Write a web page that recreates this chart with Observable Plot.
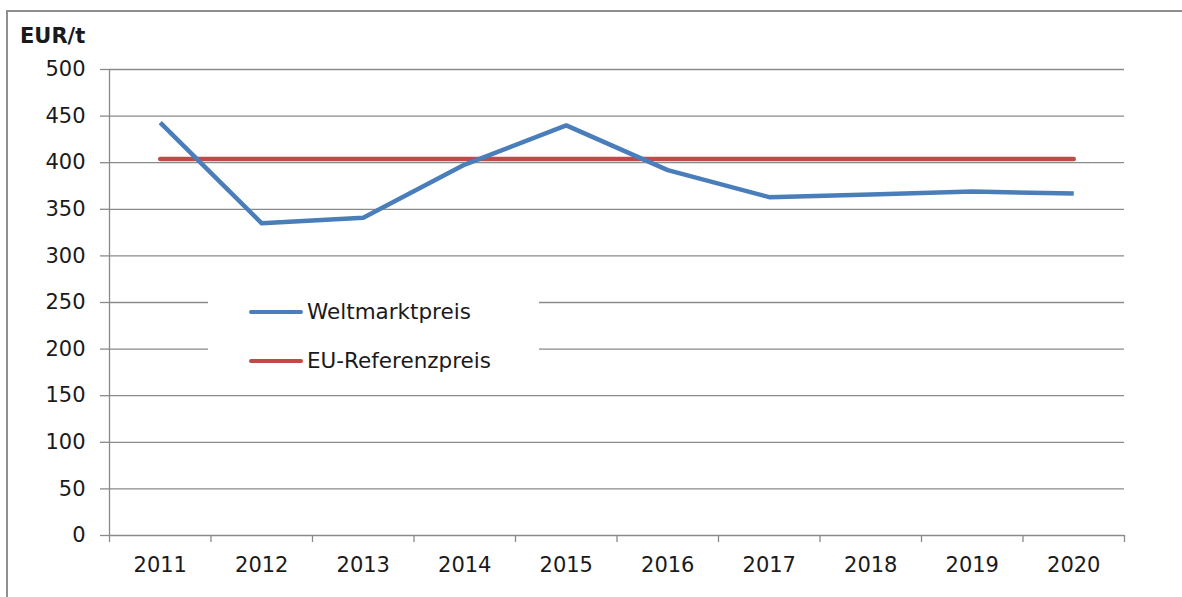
<!DOCTYPE html>
<html><head><meta charset="utf-8">
<script src="https://cdn.jsdelivr.net/npm/d3@7"></script>
<script src="https://cdn.jsdelivr.net/npm/@observablehq/plot@0.6"></script>
<style>
body{margin:0;background:#fff;}
#wrap{position:relative;width:1182px;height:597px;overflow:hidden;font-family:"DejaVu Sans",sans-serif;color:#1a1a1a;}
#frame{position:absolute;left:6px;top:10px;right:-10px;bottom:-10px;border-left:2px solid #8f8f8f;border-top:2px solid #8f8f8f;pointer-events:none;}
#ylabel{position:absolute;left:20px;top:24px;font-weight:bold;font-size:21px;line-height:24px;}
#legend{position:absolute;left:208px;top:290px;width:331px;height:90px;background:#fff;}
.sw{position:absolute;left:41px;width:54px;height:4.5px;border-radius:2px;}
.lt{position:absolute;left:99px;font-size:21.5px;line-height:24px;white-space:nowrap;}
#chart svg{display:block;}
</style></head>
<body>
<div id="wrap">
  <div id="chart"></div>
  <div id="frame"></div>
  <div id="ylabel"></div>
  <div id="legend"></div>
</div>
<script>
const years = [2011, 2012, 2013, 2014, 2015, 2016, 2017, 2018, 2019, 2020];
const weltmarktpreis = [443, 335, 341, 398, 440, 392, 363, 366, 369, 367];
const euReferenzpreis = [404, 404, 404, 404, 404, 404, 404, 404, 404, 404];
const yTicks = [0, 50, 100, 150, 200, 250, 300, 350, 400, 450, 500];
const seriesNames = ["Weltmarktpreis", "EU-Referenzpreis"];
const seriesColors = ["#4A7EBB", "#BE4B48"];
const unitLabel = "EUR/t";

const bounds = years.map(y => y - 0.5).concat([years[years.length - 1] + 0.5]);
const welt = years.map((y, i) => ({year: y, value: weltmarktpreis[i]}));
const eu = years.map((y, i) => ({year: y, value: euReferenzpreis[i]}));
const axisColor = "#8a8a8a";

const plot = Plot.plot({
  width: 1182, height: 597,
  marginLeft: 109, marginRight: 58, marginTop: 69, marginBottom: 62,
  x: {type: "linear", domain: [bounds[0], bounds[bounds.length - 1]]},
  y: {type: "linear", domain: [0, 500]},
  style: {fontFamily: "DejaVu Sans", fontSize: "21px", color: "#1a1a1a", background: "transparent", overflow: "visible"},
  marks: [
    Plot.gridY(yTicks.filter(d => d > 0), {stroke: axisColor, strokeOpacity: 1, strokeWidth: 1.3}),
    Plot.ruleY([0], {stroke: axisColor, strokeWidth: 1.3}),
    Plot.ruleX([bounds[0]], {stroke: axisColor, strokeWidth: 1.3}),
    Plot.axisY(yTicks, {tickSize: 9, tickPadding: 15, stroke: axisColor, strokeWidth: 1.3, label: null, fontSize: 21, tickFormat: d => String(d)}),
    Plot.axisX(bounds, {tickSize: 7, tickFormat: () => "", stroke: axisColor, strokeWidth: 1.3, label: null}),
    Plot.axisX(years, {tickSize: 0, tickPadding: 22, tickFormat: d => String(d), label: null, fontSize: 21}),
    Plot.line(eu, {x: "year", y: "value", stroke: seriesColors[1], strokeWidth: 4.5, strokeLinecap: "round"}),
    Plot.line(welt, {x: "year", y: "value", stroke: seriesColors[0], strokeWidth: 4.5, strokeLinejoin: "round", strokeLinecap: "butt"})
  ]
});
document.getElementById("chart").appendChild(plot);
document.getElementById("ylabel").textContent = unitLabel;

const legend = document.getElementById("legend");
const rowTops = [22, 71];
seriesNames.forEach((name, i) => {
  const sw = document.createElement("div");
  sw.className = "sw";
  sw.style.top = (rowTops[i] - 2.25) + "px";
  sw.style.background = seriesColors[i];
  legend.appendChild(sw);
  const t = document.createElement("div");
  t.className = "lt";
  t.style.top = (rowTops[i] - 12) + "px";
  t.textContent = name;
  legend.appendChild(t);
});
</script>
</body></html>
